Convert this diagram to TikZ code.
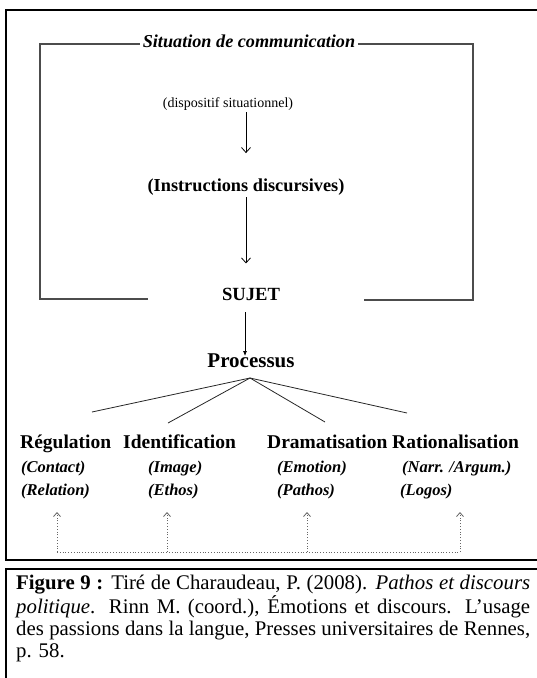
\documentclass[tikz,border=0pt]{standalone}
\usepackage{fontspec}
\setmainfont{Liberation Serif}
\usetikzlibrary{positioning,arrows.meta}

\begin{document}
\begin{tikzpicture}[x=1pt,y=-1pt,inner sep=0pt,
	box/.style={line width=2.2pt},
	bracket/.style={draw=black!70,line width=1.1pt},
	arr/.style={-{Straight Barb[length=5pt,width=9pt]},line width=0.8pt},
	farr/.style={-{Latex[length=5pt,width=4pt]},line width=0.8pt},
	dotarr/.style={black!60,dotted,line width=0.8pt,-{Straight Barb[length=4pt,width=7pt]}},
	branch/.style={line width=0.8pt,black!85},
	head/.style={font=\bfseries\fontsize{19.5}{22}\selectfont,anchor=base west},
	sub/.style={font=\bfseries\itshape\fontsize{16.5}{19}\selectfont,anchor=base west},
	caption/.style={align=left,anchor=north west,font=\fontsize{20.8}{22.3}\selectfont}]
	\useasboundingbox (0,0) rectangle (537,678);
	\clip (0,0) rectangle (537,678);
	% frames
	\draw[box] (6,10) rectangle (560,560);
	\draw[box] (6,569) rectangle (560,700);
	% upper part
	\node[font=\bfseries\itshape\fontsize{18.2}{21}\selectfont,anchor=base] (sit) at (249,47) {Situation de communication};
	\node[font=\fontsize{14}{17}\selectfont,anchor=base] (disp) at (228,107) {(dispositif situationnel)};
	\node[font=\bfseries\fontsize{18.3}{21}\selectfont,anchor=base] (instr) at (246,191) {(Instructions discursives)};
	\node[font=\bfseries\fontsize{18.6}{21}\selectfont,anchor=base] (sujet) at (251,300) {SUJET};
	\node[font=\bfseries\fontsize{21}{24}\selectfont,anchor=base] (proc) at (251,367) {Processus};
	\draw[bracket] ([xshift=-3pt]sit.west |- 0,44) -- (40,44) -- (40,299) -- (148,299);
	\draw[bracket] ([xshift=3pt]sit.east |- 0,44) -- (473,44) -- (473,300) -- (364,300);
	\path (instr |- disp.south) edge[arr,shorten <=2pt,shorten >=25pt] (instr.north)
		(instr.south) edge[arr,shorten <=2pt,shorten >=24pt] (instr |- sujet.north)
		([xshift=-6pt]sujet.south) edge[farr,shorten <=12pt,shorten >=-3pt] ([xshift=-6pt]proc.north);
	% branches
	\coordinate (pc) at (250,378);
	\coordinate (f1) at (92,412);
	\coordinate (f2) at (168,423);
	\coordinate (f3) at (325,422);
	\coordinate (f4) at (407,413);
	\foreach \f in {f1,f2,f3,f4}
		\draw[branch] (pc) -- (\f);
	% the four poles
	\node[head] (reg) at (20,448) {Régulation};
	\node[head] (ident) at (123,448) {Identification};
	\node[head] (dram) at (267,448) {Dramatisation};
	\node[head] (ratio) at (392,448) {Rationalisation};
	\node[sub] (reg1) at (21,472) {(Contact)};
	\node[sub] (ident1) at (148,472) {(Image)};
	\node[sub] (dram1) at (277,472) {(Emotion)};
	\node[sub] (ratio1) at (402,472) {(Narr. /Argum.)};
	\node[sub] (reg2) at (21,495) {(Relation)};
	\node[sub] (ident2) at (148,495) {(Ethos)};
	\node[sub] (dram2) at (277,495) {(Pathos)};
	\node[sub] (ratio2) at (400,495) {(Logos)};
	% dotted feedback
	\coordinate (d1) at (57,552);
	\coordinate (d2) at (167,552);
	\coordinate (d3) at (307,552);
	\coordinate (d4) at (460,552);
	\draw[black!60,dotted,line width=0.8pt] (d1) -- (d4);
	\foreach \d in {d1,d2,d3,d4}
		\draw[dotarr] (\d) -- ++(0,-40);
	% caption
	\node[caption] (cap) at (16,575) {%
		\makebox[514pt][s]{\textbf{Figure 9 :} Tiré de Charaudeau, P. (2008). \textit{Pathos et discours}}\\
		\makebox[514pt][s]{\textit{politique}. Rinn M. (coord.), Émotions et discours. L'usage}\\
		\makebox[514pt][s]{des passions dans la langue, Presses universitaires de Rennes,}\\
		p. 58.};
\end{tikzpicture}
\end{document}
